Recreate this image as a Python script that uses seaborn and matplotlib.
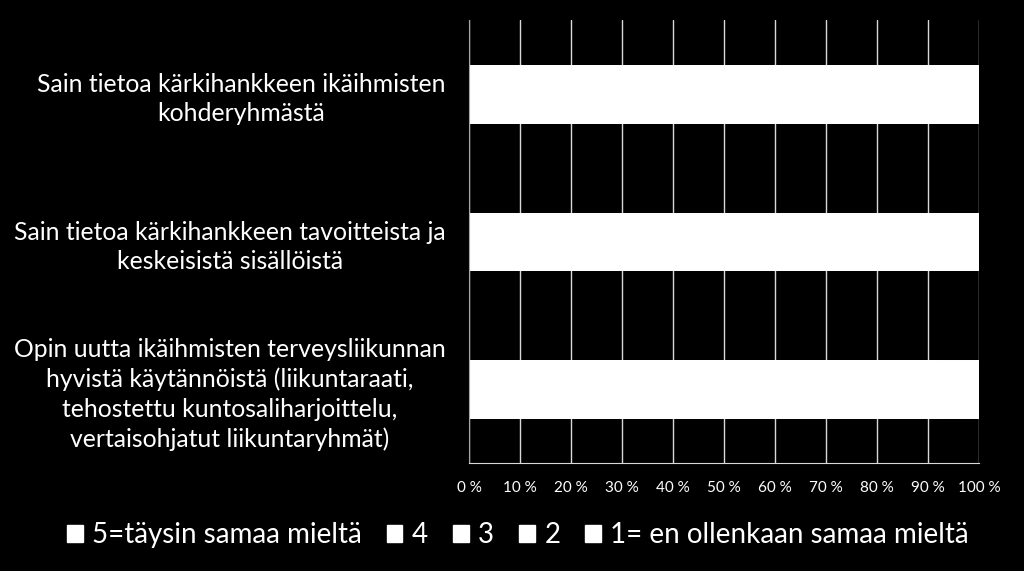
import pandas as pd
import numpy as np
import matplotlib.pyplot as plt
import seaborn as sns
from matplotlib.patches import Patch

# ── Data ─────────────────────────────────────────────────────────────────────
QUESTIONS = [
    "Sain tietoa kärkihankkeen ikäihmisten\nkohderyhmästä",
    "Sain tietoa kärkihankkeen tavoitteista ja\nkeskeisistä sisällöistä",
    "Opin uutta ikäihmisten terveysliikunnan\nhyvistä käytännöistä (liikuntaraati,\ntehostettu kuntosaliharjoittelu,\nvertaisohjatut liikuntaryhmät)",
]
LEVELS = ["5=täysin samaa mieltä", "4", "3", "2", "1= en ollenkaan samaa mieltä"]
# share of answers (%) per level, per question (segments all drawn white)
PCT_5 = [55, 60, 50]
PCT_4 = [40, 35, 42]
PCT_3 = [5, 5, 8]
PCT_2 = [0, 0, 0]
PCT_1 = [0, 0, 0]
X_TICKS = [0, 10, 20, 30, 40, 50, 60, 70, 80, 90, 100]

df = pd.DataFrame({"question": QUESTIONS, LEVELS[0]: PCT_5, LEVELS[1]: PCT_4,
                   LEVELS[2]: PCT_3, LEVELS[3]: PCT_2, LEVELS[4]: PCT_1})

sns.set_style("dark")
plt.rcParams["font.family"] = ["Lato", "DejaVu Sans"]

fig = plt.figure(figsize=(10.24, 5.71), dpi=100, facecolor="black")
ax = fig.add_axes([0.458, 0.189, 0.498, 0.776])
ax.set_facecolor("black")

# stacked bars: draw cumulative totals from the widest down
cum = df[LEVELS].cumsum(axis=1)
for lvl in reversed(LEVELS):
    sns.barplot(x=cum[lvl], y=df["question"], orient="h", color="white",
                edgecolor="white", linewidth=0.5, width=0.39, ax=ax, saturation=1)

ax.set_xlim(0, 100)
ax.set_ylim(2.5, -0.5)
ax.set_xticks(X_TICKS)
ax.set_xticklabels([f"{t} %" for t in X_TICKS], color="white", fontsize=11)
ax.set_axisbelow(True)
ax.grid(axis="x", color="#d9d9d9", linewidth=1)
ax.grid(axis="y", visible=False)

ax.set_yticks(range(len(QUESTIONS)))
ax.set_yticklabels(QUESTIONS, color="white", fontsize=17.8, ha="right",
                   multialignment="center", linespacing=1.33)
ax.tick_params(axis="y", length=0, pad=17)
ax.set_yticks([-0.5, 0.5, 1.5, 2.5], minor=True)
ax.tick_params(axis="y", which="minor", length=6, color="#a6a6a6", width=1)
ax.tick_params(axis="x", length=6, color="#d9d9d9", width=1, pad=7)
ax.set_xlabel("")
ax.set_ylabel("")

for side in ["top", "right"]:
    ax.spines[side].set_visible(False)
ax.spines["left"].set_color("#a6a6a6")
ax.spines["bottom"].set_color("#d9d9d9")

handles = [Patch(facecolor="white", edgecolor="white") for _ in LEVELS]
leg = fig.legend(handles, LEVELS, loc="center", bbox_to_anchor=(0.506, 0.063),
                 ncol=5, frameon=False, fontsize=20, handlelength=0.55,
                 handleheight=0.55, handletextpad=0.35, columnspacing=0.9)
for t in leg.get_texts():
    t.set_color("white")

fig.savefig("out.png", dpi=100, facecolor="black")
